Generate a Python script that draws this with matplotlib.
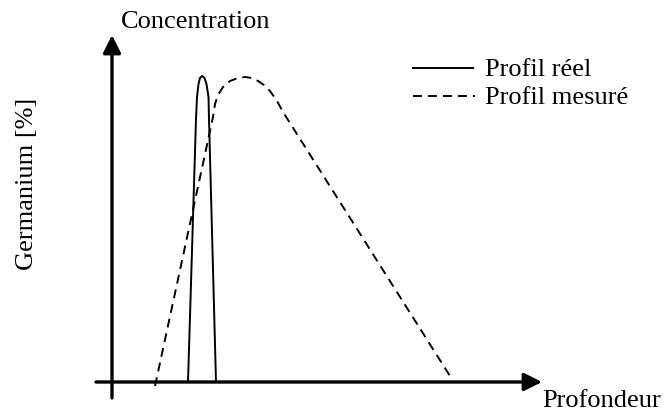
import matplotlib
matplotlib.use("Agg")
import matplotlib.pyplot as plt

# schematic profile, depth / concentration in arbitrary units
real_depth = [76, 84, 85, 86.5, 88, 90, 92.5, 94.5, 96.5, 97, 104]
real_conc = [0, 263, 285, 298, 304, 306, 304, 298, 285, 263, 0]

meas_depth = [43, 101, 103, 106, 111, 118, 126, 133, 140, 146, 152, 158, 165, 171, 338]
meas_conc = [-4, 265, 278, 287, 295, 301, 304, 305, 304, 301, 297, 291, 281, 270, 6]

legend_labels = ["Profil réel", "Profil mesuré"]
x_label = "Profondeur"
y_label = "Concentration"
side_label = "Germanium [%]"

plt.rcParams['font.family'] = ['Liberation Serif', 'DejaVu Serif']
fs = 19
lw = 1.4
dash = (4.6, 3.1)

fig = plt.figure(figsize=(6.66, 4.14), dpi=100)
ax = fig.add_axes([0, 0, 1, 1])
ax.set_xlim(-112, 554)
ax.set_ylim(-31, 383)
ax.axis('off')

# axes arrows
arrow = dict(arrowstyle='-|>', lw=2.4, color='black', mutation_scale=27,
             shrinkA=0, shrinkB=0)
ax.annotate('', xy=(0, 347), xytext=(0, -16), arrowprops=arrow)
ax.annotate('', xy=(430, 0), xytext=(-16, 0), arrowprops=arrow)

ax.plot(real_depth, real_conc, color='black', lw=lw)
ax.plot(meas_depth, meas_conc, color='black', lw=lw, dashes=dash)

# legend drawn by hand
ax.plot([301, 361], [314, 314], color='black', lw=lw)
ax.plot([301, 363], [286, 286], color='black', lw=lw, dashes=dash)
ax.text(373, 307, legend_labels[0], fontsize=fs, va='baseline', ha='left')
ax.text(373, 279, legend_labels[1], fontsize=fs, va='baseline', ha='left')

ax.text(9, 355, y_label, fontsize=fs, va='baseline', ha='left')
ax.text(430, -24, x_label, fontsize=fs, va='baseline', ha='left')
ax.text(-79, 113, side_label, fontsize=fs, va='baseline', ha='left',
        rotation=90, rotation_mode='anchor')

fig.savefig("out.png", dpi=100)
